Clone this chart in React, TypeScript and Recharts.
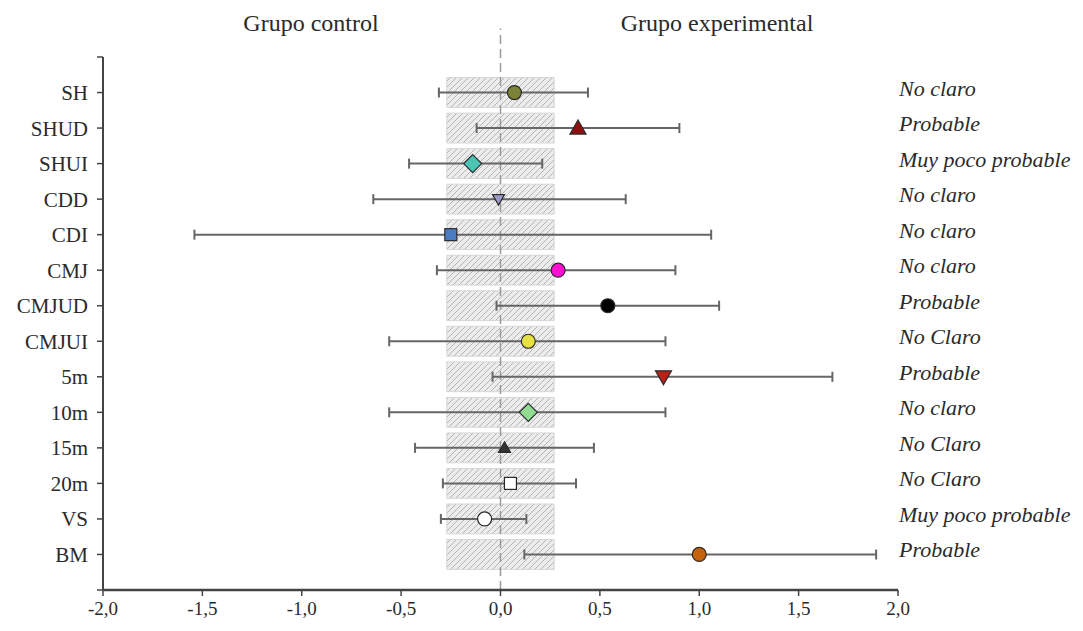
import React from "react";
import {
  ScatterChart,
  Scatter,
  XAxis,
  YAxis,
  ErrorBar,
  ReferenceArea,
  ReferenceLine,
  ReferenceDot,
} from "recharts";

// outcome measures, top to bottom
const measures = ["SH", "SHUD", "SHUI", "CDD", "CDI", "CMJ", "CMJUD", "CMJUI", "5m", "10m", "15m", "20m", "VS", "BM"];
// standardised difference (point estimate) and its confidence limits
const effect = [0.07, 0.39, -0.14, -0.01, -0.25, 0.29, 0.54, 0.14, 0.82, 0.14, 0.02, 0.05, -0.08, 1.0];
const lower = [-0.31, -0.12, -0.46, -0.64, -1.54, -0.32, -0.02, -0.56, -0.04, -0.56, -0.43, -0.29, -0.3, 0.12];
const upper = [0.44, 0.9, 0.21, 0.63, 1.06, 0.88, 1.1, 0.83, 1.67, 0.83, 0.47, 0.38, 0.13, 1.89];
// qualitative inference shown at the right
const verdict = [
  "No claro", "Probable", "Muy poco probable", "No claro", "No claro", "No claro", "Probable",
  "No Claro", "Probable", "No claro", "No Claro", "No Claro", "Muy poco probable", "Probable",
];
// smallest worthwhile change (hatched band)
const swc = 0.27;
const xTicks = [-2, -1.5, -1, -0.5, 0, 0.5, 1, 1.5, 2];
const rowTicks = [0, 1, 2, 3, 4, 5, 6, 7, 8, 9, 10, 11, 12, 13, 14, 15];

// marker look per measure
const markerStyle = [
  { shape: "circle", fill: "#7b8235", r: 7 },
  { shape: "triangle", fill: "#8e1010", r: 8 },
  { shape: "diamond", fill: "#4cc4b4", r: 9 },
  { shape: "triangleDown", fill: "#9c9cc8", r: 6 },
  { shape: "square", fill: "#4a7cc4", r: 7 },
  { shape: "circle", fill: "#ff10d0", r: 7 },
  { shape: "circle", fill: "#000000", r: 7 },
  { shape: "circle", fill: "#e6e244", r: 7 },
  { shape: "triangleDown", fill: "#b82018", r: 8 },
  { shape: "diamond", fill: "#92dc92", r: 9 },
  { shape: "triangle", fill: "#333333", r: 6 },
  { shape: "square", fill: "#ffffff", r: 7 },
  { shape: "circle", fill: "#ffffff", r: 7 },
  { shape: "circle", fill: "#c4620e", r: 7 },
];

const SERIF = "'Liberation Serif', 'Times New Roman', serif";
const N = measures.length;

const rows = measures.map((m, i) => ({
  name: m,
  x: effect[i],
  y: N - i,
  err: [effect[i] - lower[i], upper[i] - effect[i]],
  idx: i,
}));

const Marker = (props: any) => {
  const { cx, cy, payload } = props;
  const s = markerStyle[payload.idx];
  const r = s.r;
  const common = { fill: s.fill, stroke: "#2a2a2a", strokeWidth: 1.2 };
  if (s.shape === "circle") return <circle cx={cx} cy={cy} r={r} {...common} />;
  if (s.shape === "square")
    return <rect x={cx - r + 1} y={cy - r + 1} width={2 * r - 2} height={2 * r - 2} {...common} />;
  if (s.shape === "diamond")
    return <polygon points={`${cx},${cy - r} ${cx + r},${cy} ${cx},${cy + r} ${cx - r},${cy}`} {...common} />;
  if (s.shape === "triangle")
    return <polygon points={`${cx},${cy - r} ${cx + r},${cy + r * 0.75} ${cx - r},${cy + r * 0.75}`} {...common} />;
  return <polygon points={`${cx},${cy + r} ${cx + r},${cy - r * 0.75} ${cx - r},${cy - r * 0.75}`} {...common} />;
};

const verdictLabel = (text: string) => (props: any) => {
  const vb = props.viewBox || {};
  const x = (vb.x ?? 0) + (vb.width ?? 0) / 2;
  const y = (vb.y ?? 0) + (vb.height ?? 0) / 2;
  return (
    <text x={x + 1} y={y + 3} fontFamily={SERIF} fontStyle="italic" fontSize={22} fill="#2a2a2a" textAnchor="start">
      {text}
    </text>
  );
};

const titleStyle: React.CSSProperties = {
  position: "absolute",
  top: 11,
  fontFamily: SERIF,
  fontSize: 24,
  lineHeight: "24px",
  color: "#2a2a2a",
  transform: "translateX(-50%)",
  whiteSpace: "nowrap",
};

export default function App() {
  return (
    <div style={{ position: "absolute", left: 0, top: 0, width: 1083, height: 631, background: "#fff" }}>
      <div style={{ ...titleStyle, left: 311 }}>Grupo control</div>
      <div style={{ ...titleStyle, left: 717 }}>Grupo experimental</div>
      <ScatterChart width={1083} height={631} margin={{ top: 57, right: 185, bottom: 0, left: 0 }}>
        <defs>
          <pattern id="hatch" patternUnits="userSpaceOnUse" width={6} height={6}>
            <rect width={6} height={6} fill="#ececec" />
            <path d="M0,6 L6,0 M-1,1 L1,-1 M5,7 L7,5" stroke="#b4b4b4" strokeWidth={1} />
          </pattern>
        </defs>
        <XAxis
          type="number"
          dataKey="x"
          domain={[-2, 2]}
          ticks={xTicks}
          height={41}
          tickSize={6}
          tickMargin={6}
          stroke="#444"
          axisLine={{ stroke: "#444", strokeWidth: 2.5 }}
          tickLine={{ stroke: "#444", strokeWidth: 1.5 }}
          tickFormatter={(v: number) => v.toFixed(1).replace(".", ",")}
          tick={{ fontFamily: SERIF, fontSize: 19, fill: "#2a2a2a" }}
          allowDataOverflow
        />
        <YAxis
          yAxisId="l"
          type="number"
          dataKey="y"
          domain={[0, 15]}
          ticks={rowTicks}
          width={103}
          tickSize={6}
          tickMargin={9}
          interval={0}
          axisLine={{ stroke: "#444", strokeWidth: 2 }}
          tickLine={{ stroke: "#444", strokeWidth: 1.5 }}
          tickFormatter={(v: number) => (v >= 1 && v <= N ? measures[N - v] : "")}
          tick={{ fontFamily: SERIF, fontSize: 21, fill: "#2a2a2a" }}
        />
        {rows.map((r) => (
          <ReferenceArea
            key={r.name}
            yAxisId="l"
            x1={-swc}
            x2={swc}
            y1={r.y - 0.42}
            y2={r.y + 0.42}
            fill="url(#hatch)"
            fillOpacity={1}
            stroke="#d6d6d6"
            strokeWidth={1}
          />
        ))}
        <ReferenceLine
          yAxisId="l"
          segment={[{ x: 0, y: 0 }, { x: 0, y: 15.8 }]}
          ifOverflow="visible"
          stroke="#9a9a9a"
          strokeWidth={1.5}
          strokeDasharray="9 5"
        />
        <Scatter yAxisId="l" data={rows} shape={<Marker />} isAnimationActive={false}>
          <ErrorBar dataKey="err" direction="x" width={5} stroke="#666" strokeWidth={2} isAnimationActive={false} />
        </Scatter>
        {rows.map((r, i) => (
          <ReferenceDot
            key={"v" + r.name}
            yAxisId="l"
            x={2}
            y={r.y}
            r={1}
            fill="none"
            stroke="none"
            ifOverflow="visible"
            label={verdictLabel(verdict[i])}
          />
        ))}
      </ScatterChart>
    </div>
  );
}
